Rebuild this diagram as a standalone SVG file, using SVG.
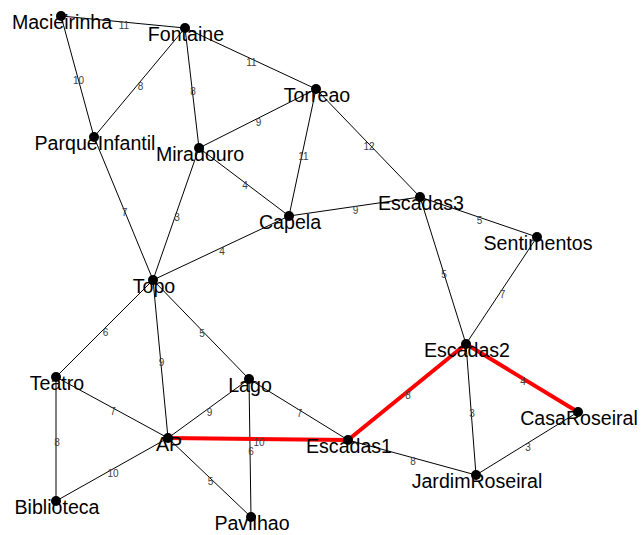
<svg xmlns="http://www.w3.org/2000/svg" width="643" height="535" viewBox="0 0 643 535">
<style>
.e{stroke:#000;stroke-width:1;fill:none}
.p{stroke:#ff0000;stroke-width:4;fill:none;stroke-linecap:round}
.w{font-family:"Liberation Sans",Arial,sans-serif;font-size:10px;fill:#404040;text-anchor:middle}
.d{fill:#000}
.t{font-family:"Liberation Sans",Arial,sans-serif;font-size:19.6px;fill:#000;text-anchor:middle}
</style>
<rect width="643" height="535" fill="#fff"/>
<g id="connectors">
<line class="e" x1="61" y1="16" x2="185" y2="28"/>
<line class="e" x1="61" y1="16" x2="94" y2="137"/>
<line class="e" x1="185" y1="28" x2="94" y2="137"/>
<line class="e" x1="185" y1="28" x2="199" y2="148"/>
<line class="e" x1="185" y1="28" x2="316" y2="89"/>
<line class="e" x1="316" y1="89" x2="199" y2="148"/>
<line class="e" x1="316" y1="89" x2="289" y2="216"/>
<line class="e" x1="316" y1="89" x2="420" y2="197"/>
<line class="e" x1="199" y1="148" x2="289" y2="216"/>
<line class="e" x1="199" y1="148" x2="153" y2="280"/>
<line class="e" x1="94" y1="137" x2="153" y2="280"/>
<line class="e" x1="289" y1="216" x2="420" y2="197"/>
<line class="e" x1="289" y1="216" x2="153" y2="280"/>
<line class="e" x1="420" y1="197" x2="537" y2="237"/>
<line class="e" x1="420" y1="197" x2="466" y2="344"/>
<line class="e" x1="537" y1="237" x2="466" y2="344"/>
<line class="e" x1="153" y1="280" x2="56" y2="377"/>
<line class="e" x1="153" y1="280" x2="168" y2="438"/>
<line class="e" x1="153" y1="280" x2="249" y2="379"/>
<line class="e" x1="56" y1="377" x2="168" y2="438"/>
<line class="e" x1="56" y1="377" x2="56" y2="501"/>
<line class="e" x1="168" y1="438" x2="249" y2="379"/>
<line class="e" x1="168" y1="438" x2="56" y2="501"/>
<line class="e" x1="168" y1="438" x2="251" y2="517"/>
<line class="e" x1="249" y1="379" x2="251" y2="517"/>
<line class="e" x1="249" y1="379" x2="348" y2="440"/>
<line class="e" x1="348" y1="440" x2="476" y2="475"/>
<line class="e" x1="466" y1="344" x2="476" y2="475"/>
<line class="e" x1="578" y1="412" x2="476" y2="475"/>
<line class="p" x1="168" y1="438" x2="348" y2="440"/>
<line class="p" x1="348" y1="440" x2="466" y2="344"/>
<line class="p" x1="466" y1="344" x2="578" y2="412"/>
<text class="w" x="124" y="29">11</text>
<text class="w" x="78.5" y="83.5">10</text>
<text class="w" x="140.5" y="89.5">8</text>
<text class="w" x="193" y="95">8</text>
<text class="w" x="251.5" y="65.5">11</text>
<text class="w" x="258.5" y="125.5">9</text>
<text class="w" x="303.5" y="159.5">11</text>
<text class="w" x="369" y="150">12</text>
<text class="w" x="245" y="189">4</text>
<text class="w" x="177" y="221">3</text>
<text class="w" x="124.5" y="215.5">7</text>
<text class="w" x="355.5" y="213.5">9</text>
<text class="w" x="222" y="255">4</text>
<text class="w" x="479.5" y="224">5</text>
<text class="w" x="444" y="277.5">5</text>
<text class="w" x="502.5" y="297.5">7</text>
<text class="w" x="105.5" y="335.5">6</text>
<text class="w" x="161.5" y="366">9</text>
<text class="w" x="202" y="336.5">5</text>
<text class="w" x="113" y="414.5">7</text>
<text class="w" x="57" y="446">8</text>
<text class="w" x="209.5" y="415.5">9</text>
<text class="w" x="113" y="476.5">10</text>
<text class="w" x="210.5" y="484.5">5</text>
<text class="w" x="259" y="446">10</text>
<text class="w" x="251" y="455">6</text>
<text class="w" x="299.5" y="416.5">7</text>
<text class="w" x="408" y="399">8</text>
<text class="w" x="413" y="464.5">8</text>
<text class="w" x="472" y="416.5">3</text>
<text class="w" x="523" y="385">4</text>
<text class="w" x="528" y="450.5">3</text>
</g>
<g id="n-Macieirinha"><circle class="d" cx="61" cy="16" r="5"/><text class="t" x="62" y="28.5">Macieirinha</text></g>
<g id="n-Fontaine"><circle class="d" cx="185" cy="28" r="5"/><text class="t" x="186" y="40.5">Fontaine</text></g>
<g id="n-Torreao"><circle class="d" cx="316" cy="89" r="5"/><text class="t" x="317" y="101.5">Torreao</text></g>
<g id="n-ParqueInfantil"><circle class="d" cx="94" cy="137" r="5"/><text class="t" x="95" y="149.5">ParqueInfantil</text></g>
<g id="n-Miradouro"><circle class="d" cx="199" cy="148" r="5"/><text class="t" x="200" y="160.5">Miradouro</text></g>
<g id="n-Capela"><circle class="d" cx="289" cy="216" r="5"/><text class="t" x="290" y="228.5">Capela</text></g>
<g id="n-Escadas3"><circle class="d" cx="420" cy="197" r="5"/><text class="t" x="421" y="209.5">Escadas3</text></g>
<g id="n-Sentimentos"><circle class="d" cx="537" cy="237" r="5"/><text class="t" x="538" y="249.5">Sentimentos</text></g>
<g id="n-Topo"><circle class="d" cx="153" cy="280" r="5"/><text class="t" x="154" y="292.5">Topo</text></g>
<g id="n-Teatro"><circle class="d" cx="56" cy="377" r="5"/><text class="t" x="57" y="389.5">Teatro</text></g>
<g id="n-Lago"><circle class="d" cx="249" cy="379" r="5"/><text class="t" x="250" y="391.5">Lago</text></g>
<g id="n-AP"><circle class="d" cx="168" cy="438" r="5"/><text class="t" x="169" y="450.5">AP</text></g>
<g id="n-Escadas1"><circle class="d" cx="348" cy="440" r="5"/><text class="t" x="349" y="452.5">Escadas1</text></g>
<g id="n-Escadas2"><circle class="d" cx="466" cy="344" r="5"/><text class="t" x="467" y="356.5">Escadas2</text></g>
<g id="n-CasaRoseiral"><circle class="d" cx="578" cy="412" r="5"/><text class="t" x="579" y="424.5">CasaRoseiral</text></g>
<g id="n-JardimRoseiral"><circle class="d" cx="476" cy="475" r="5"/><text class="t" x="477" y="487.5">JardimRoseiral</text></g>
<g id="n-Biblioteca"><circle class="d" cx="56" cy="501" r="5"/><text class="t" x="57" y="513.5">Biblioteca</text></g>
<g id="n-Pavilhao"><circle class="d" cx="251" cy="517" r="5"/><text class="t" x="252" y="529.5">Pavilhao</text></g>
</svg>
